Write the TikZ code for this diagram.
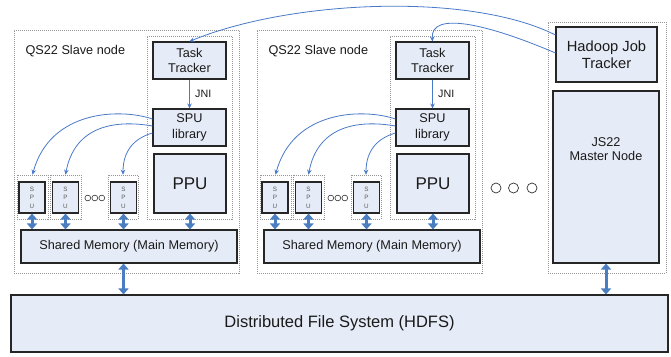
\documentclass[tikz,border=0pt]{standalone}
\usepackage{fontspec}
\setmainfont{Liberation Sans}
\usetikzlibrary{arrows.meta}
\definecolor{boxfill}{RGB}{230,236,247}
\definecolor{arrblue}{RGB}{74,126,193}
\definecolor{lineblue}{RGB}{72,122,200}
\definecolor{dotgray}{RGB}{150,150,150}
\definecolor{txt}{RGB}{26,26,26}
\newcommand\slavenode[2]{%
\begin{scope}[xshift=#2pt]
 \node[dotbox, minimum width=225, minimum height=243] (#1outer) at (126.5,151.5) {};
 \node[anchor=west, f12, text=txt] (#1title) at (22,51) {QS22 Slave node};
 \node[dotbox, minimum width=85, minimum height=183] (#1inner) at (189.5,127.5) {};
 \node[box, f12, minimum width=73, minimum height=37] (#1tt) at (189.5,60.5) {Task\\Tracker};
 \node[box, f12, minimum width=73, minimum height=37] (#1lib) at (189.5,127.5) {SPU\\library};
 \node[box, font=\fontsize{17}{20}\selectfont, minimum width=72, minimum height=59] (#1ppu) at (190,183.5) {PPU};
 \node[box, f12, minimum width=216, minimum height=33] (#1sm) at (129,246.5) {Shared Memory (Main Memory)};
 \node[dotbox, minimum width=31, minimum height=44] (#1d1) at (32.5,197) {};
 \node[dotbox, minimum width=31, minimum height=44] (#1d2) at (65.5,197) {};
 \node[dotbox, minimum width=30, minimum height=44] (#1d3) at (123,197) {};
 \node[spu] (#1s1) at (32,197.5) {S\\P\\U};
 \node[spu] (#1s2) at (65.5,197.5) {S\\P\\U};
 \node[spu] (#1s3) at (123.5,197.5) {S\\P\\U};
 \draw[smallc] (87.8,198) circle (2.9) (94.8,198) circle (2.9) (101.8,198) circle (2.9);
 \draw[conn] (#1tt.south) -- (#1lib.north) node[midway, right=2pt, font=\fontsize{10.7}{12}\selectfont, text=txt] (#1jni) {JNI};
 \draw[conn] ([yshift=8.5pt]#1lib.west) .. controls (120,108) and (50,110) .. (#1d1.north);
 \draw[conn] ([yshift=1.5pt]#1lib.west) .. controls (118,120) and (75,124) .. (#1d2.north);
 \draw[conn] ([yshift=-5.5pt]#1lib.west) .. controls (135,138) and (123,150) .. (#1d3.north);
 \draw[dbl] (#1s1.south) -- (#1s1.south |- #1sm.north);
 \draw[dbl] (#1s2.south) -- (#1s2.south |- #1sm.north);
 \draw[dbl] (#1s3.south) -- (#1s3.south |- #1sm.north);
 \draw[dbl] (#1ppu.south) -- (#1ppu.south |- #1sm.north);
\end{scope}}
\begin{document}
\begin{tikzpicture}[x=1pt,y=-1pt,
 box/.style={draw=black!85, line width=1.1pt, fill=boxfill, text=txt, align=center, inner sep=0pt},
 spu/.style={box, minimum width=26, minimum height=31, text=black!65, font=\fontsize{6.3}{8.5}\selectfont},
 dotbox/.style={draw=dotgray, line width=0.6pt, dash pattern=on 1pt off 1pt},
 dbl/.style={arrblue, line width=3pt, {Triangle[width=10pt,length=6pt]}-{Triangle[width=10pt,length=6pt]}, shorten <=0pt},
 conn/.style={lineblue, line width=0.8pt, -{Stealth[length=5pt,width=4.5pt]}},
 smallc/.style={draw=black!80, line width=0.6pt},
 bigc/.style={draw=black!80, line width=0.7pt},
 f12/.style={font=\fontsize{12.7}{15.5}\selectfont}
]
\useasboundingbox (0,0) rectangle (671,356);
\slavenode{a}{0}
\slavenode{b}{243}
% master
\node[dotbox, minimum width=118, minimum height=251] (mouter) at (607,147.5) {};
\node[box, font=\fontsize{14.7}{16.7}\selectfont, minimum width=101, minimum height=55] (jt) at (606.5,54.5) {Hadoop Job\\Tracker};
\node[box, minimum width=106, minimum height=172] (js) at (606,177) {};
\node[f12, text=txt, align=center, font=\fontsize{12.7}{14}\selectfont] (jstxt) at (606,149) {JS22\\Master Node};
% dots
\draw[bigc] (496,188) circle (5) (513.5,188) circle (5) (532,188) circle (5);
% HDFS
\node[box, font=\fontsize{16.5}{19}\selectfont, minimum width=657, minimum height=57] (hdfs) at (339.5,323.5) {Distributed File System (HDFS)};
\draw[dbl] (as3.south |- asm.south) -- (as3.south |- hdfs.north);
\draw[dbl] (js.south) -- (js.south |- hdfs.north);
% job tracker links
\draw[conn] ([yshift=19.5pt]jt.west) .. controls (470,-8) and (290,0) .. (att.north);
\draw[conn] ([yshift=1.5pt]jt.west) .. controls (490,25) and (430,10) .. (btt.north);
\end{tikzpicture}
\end{document}
